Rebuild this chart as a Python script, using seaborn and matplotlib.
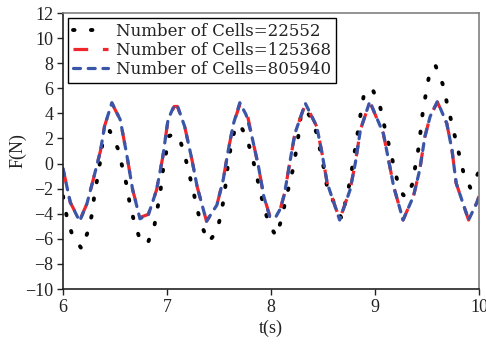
import matplotlib
matplotlib.use("Agg")
import matplotlib.pyplot as plt
import seaborn as sns
import pandas as pd

# ---- data ----
t_fine = [6.00, 6.07, 6.16, 6.23, 6.29, 6.36, 6.40, 6.47, 6.55, 6.61, 6.67, 6.74, 6.82,
          6.90, 6.96, 7.01, 7.07, 7.10, 7.17, 7.24, 7.29, 7.38, 7.48, 7.54, 7.59, 7.64,
          7.70, 7.76, 7.81, 7.88, 7.93, 7.99, 8.05, 8.09, 8.13, 8.18, 8.23, 8.33, 8.44,
          8.49, 8.54, 8.66, 8.76, 8.81, 8.86, 8.95, 9.08, 9.13, 9.18, 9.27, 9.37, 9.43,
          9.48, 9.53, 9.60, 9.69, 9.74, 9.78, 9.90, 9.98, 10.00]
f_805940 = [-0.4, -3.1, -4.6, -3.2, -1.3, 1.0, 3.0, 4.85, 3.5, 0.85, -2.1, -4.4, -4.1,
            -2.1, 0.55, 3.5, 4.65, 4.6, 2.95, 0.3, -1.85, -4.6, -3.3, -1.3, 1.1, 3.2,
            4.85, 3.9, 2.4, -0.25, -2.6, -4.3, -4.2, -3.6, -2.4, 0.05, 2.4, 4.8, 2.95,
            0.85, -1.55, -4.5, -2.1, 0.0, 2.7, 4.95, 2.4, 0.3, -1.85, -4.5, -2.6, -0.5,
            2.15, 3.75, 4.95, 3.2, 1.1, -1.55, -4.5, -3.1, -2.6]
f_125368 = [-0.4, -3.1, -4.55, -3.2, -1.3, 1.0, 3.0, 4.8, 3.5, 0.85, -2.1, -4.3, -4.05,
            -2.1, 0.55, 3.5, 4.55, 4.55, 2.95, 0.3, -1.85, -4.6, -3.3, -1.3, 1.1, 3.2,
            4.7, 4.4, 2.4, -0.25, -2.6, -4.2, -4.2, -3.6, -2.4, 0.05, 2.4, 4.75, 2.95,
            0.85, -1.55, -4.45, -2.1, 0.0, 2.7, 4.9, 2.4, 0.3, -1.85, -4.5, -2.6, -0.5,
            2.15, 3.75, 4.9, 3.2, 1.1, -1.55, -4.5, -3.1, -2.6]

t_coarse = [6.00, 6.04, 6.09, 6.18, 6.24, 6.28, 6.30, 6.33, 6.36, 6.38, 6.45, 6.53, 6.57,
            6.61, 6.64, 6.68, 6.73, 6.81, 6.88, 6.91, 6.94, 6.96, 6.99, 7.02, 7.075, 7.12,
            7.17, 7.21, 7.25, 7.29, 7.33, 7.40, 7.48, 7.52, 7.55, 7.57, 7.59, 7.62, 7.66,
            7.70, 7.76, 7.81, 7.85, 7.89, 7.93, 7.98, 8.05, 8.11, 8.14, 8.18, 8.22, 8.26,
            8.29, 8.33, 8.38, 8.44, 8.51, 8.54, 8.61, 8.68, 8.76, 8.84, 8.87, 8.90, 8.94,
            8.98, 9.05, 9.09, 9.13, 9.17, 9.21, 9.27, 9.31, 9.36, 9.39, 9.42, 9.44, 9.46,
            9.49, 9.52, 9.58, 9.65, 9.69, 9.73, 9.77, 9.81, 9.85, 9.92, 9.99, 10.00]
f_22552 = [-2.6, -4.4, -5.7, -6.8, -5.4, -4.0, -2.6, -1.2, 0.3, 1.7, 2.6, 1.15, -0.25,
           -1.65, -3.1, -4.5, -5.8, -6.45, -4.9, -3.5, -2.0, -0.6, 0.8, 2.2, 2.35, 2.0,
           0.7, -0.7, -2.1, -3.6, -4.9, -6.25, -5.4, -4.0, -2.6, -1.2, 0.2, 1.6, 3.0,
           3.1, 2.2, 0.85, -0.5, -2.0, -3.4, -4.8, -5.8, -4.2, -2.85, -1.6, -0.1, 2.0,
           4.05, 4.3, 3.7, 2.4, -0.45, -1.9, -3.2, -4.4, -1.4, 2.8, 4.4, 5.8, 5.95,
           5.85, 4.5, 3.0, 1.6, 0.2, -1.2, -2.5, -2.7, -1.6, -0.1, 1.3, 2.7, 4.15,
           5.6, 7.0, 7.85, 6.35, 4.9, 3.5, 2.1, 0.7, -0.7, -2.0, -0.8, -0.6]

labels = ["Number of Cells=22552", "Number of Cells=125368", "Number of Cells=805940"]
x_ticks = [6, 7, 8, 9, 10]
y_ticks = list(range(-10, 13, 2))

df_fine = pd.DataFrame({"t": t_fine, "f125368": f_125368, "f805940": f_805940})
df_coarse = pd.DataFrame({"t": t_coarse, "f22552": f_22552})

sns.set_style("ticks")
plt.rcParams["font.family"] = ["Liberation Serif", "DejaVu Serif"]
plt.rcParams["axes.unicode_minus"] = True

fig = plt.figure(figsize=(4.86, 3.45), dpi=100)
ax = fig.add_axes([63 / 486, 1 - 289 / 345, (479 - 63) / 486, (289 - 13) / 345])

sns.lineplot(data=df_coarse, x="t", y="f22552", ax=ax, color="black", lw=2.8,
             label=labels[0],
             linestyle=(0, (0.4, 4.2)), dash_capstyle="round")
sns.lineplot(data=df_fine, x="t", y="f125368", ax=ax, color="#f0262a", lw=2.3,
             label=labels[1], linestyle=(0, (4.6, 4.6)))
sns.lineplot(data=df_fine, x="t", y="f805940", ax=ax, color="#3a56a8", lw=2.3,
             label=labels[2], linestyle=(0, (2.2, 2.4)), dash_capstyle="round")

ax.set_xlim(6, 10)
ax.set_ylim(-10, 12)
ax.set_xticks(x_ticks)
ax.set_yticks(y_ticks)
ax.tick_params(axis="both", labelsize=13, length=4, width=1, direction="out",
               colors="#222222", pad=3)
for s in ["left", "bottom"]:
    ax.spines[s].set_color("#222222")
    ax.spines[s].set_linewidth(1.2)
for s in ["top", "right"]:
    ax.spines[s].set_visible(True)
    ax.spines[s].set_color("#808080")
    ax.spines[s].set_linewidth(1.2)

ax.set_xlabel("t(s)", fontsize=13, color="#222222", labelpad=3)
ax.set_ylabel("F(N)", fontsize=13, color="#222222", labelpad=-1)

leg = ax.legend(loc="upper left", frameon=True, fancybox=False, edgecolor="black",
                prop={"family": "DejaVu Serif", "size": 12}, handlelength=2.1,
                handletextpad=0.45, labelspacing=0.12, borderaxespad=0.3,
                borderpad=0.3, framealpha=1)
leg.get_frame().set_linewidth(1.0)
for txt in leg.get_texts():
    txt.set_color("#222222")

fig.savefig("out.png", dpi=100)
